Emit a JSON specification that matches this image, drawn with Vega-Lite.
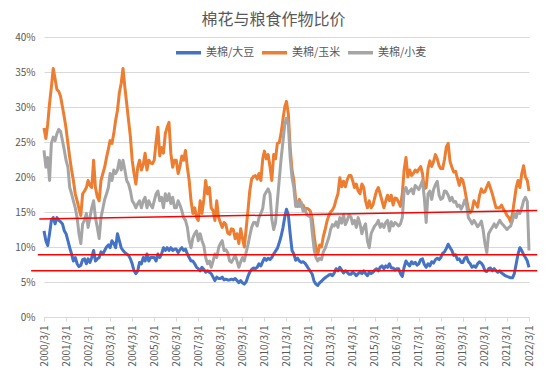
{
"$schema":"https://vega.github.io/schema/vega-lite/v6.json",
"width":485,"height":280,
"autosize":{"type":"none"},
"padding":{"left":44,"top":37,"right":25,"bottom":64},
"background":"white",
"title":{"text":"棉花与粮食作物比价","fontSize":16,"fontWeight":"normal","color":"#595959","font":"Noto Sans CJK SC","anchor":"middle","dx":-13,"offset":4},
"config":{"view":{"stroke":null},"font":"Noto Sans CJK SC"},
"resolve":{"axis":{"x":"independent","y":"independent"}},
"layer":[
{
"data":{"format":{"parse":{"d":"date"}},"values":[
{"d":"2000/03/01","s":12.3,"c":27,"w":23.8},
{"d":"2000/04/01","s":10.9,"c":25.5,"w":21.4},
{"d":"2000/05/01","s":10.2,"c":27.5,"w":22.8},
{"d":"2000/06/01","s":11.9,"c":30.5,"w":19.5},
{"d":"2000/07/01","s":13.8,"c":32.8,"w":24.8},
{"d":"2000/08/01","s":14.2,"c":35.5,"w":25.7},
{"d":"2000/09/01","s":13.3,"c":34,"w":25.2},
{"d":"2000/10/01","s":14.2,"c":32.5,"w":26.2},
{"d":"2000/11/01","s":13.8,"c":32.2,"w":26.8},
{"d":"2000/12/01","s":13.6,"c":31.5,"w":26.5},
{"d":"2001/01/01","s":13.3,"c":30,"w":25.2},
{"d":"2001/02/01","s":12.3,"c":28.5,"w":23.8},
{"d":"2001/03/01","s":11.9,"c":27,"w":22.4},
{"d":"2001/04/01","s":10.9,"c":24.8,"w":21.4},
{"d":"2001/05/01","s":9.9,"c":22.8,"w":18.5},
{"d":"2001/06/01","s":9,"c":21,"w":17.6},
{"d":"2001/07/01","s":8,"c":19.5,"w":16.6},
{"d":"2001/08/01","s":8.5,"c":17.6,"w":15.6},
{"d":"2001/09/01","s":7.6,"c":16.6,"w":14.2},
{"d":"2001/10/01","s":7.2,"c":15.5,"w":11.9},
{"d":"2001/11/01","s":7.4,"c":14.5,"w":10.5},
{"d":"2001/12/01","s":8.2,"c":17.6,"w":13.3},
{"d":"2002/01/01","s":8.3,"c":18,"w":13.8},
{"d":"2002/02/01","s":7.6,"c":18.5,"w":14.8},
{"d":"2002/03/01","s":8.3,"c":19.5,"w":12.8},
{"d":"2002/04/01","s":7.8,"c":18.8,"w":14.2},
{"d":"2002/05/01","s":8.5,"c":18.5,"w":15.6},
{"d":"2002/06/01","s":9.5,"c":22.4,"w":16.6},
{"d":"2002/07/01","s":8,"c":18.5,"w":14.2},
{"d":"2002/08/01","s":8.3,"c":17.2,"w":12.8},
{"d":"2002/09/01","s":8.5,"c":16.6,"w":11.2},
{"d":"2002/10/01","s":9.3,"c":19.5,"w":14.2},
{"d":"2002/11/01","s":9,"c":20.5,"w":15.5},
{"d":"2002/12/01","s":9.5,"c":21.4,"w":16.8},
{"d":"2003/01/01","s":10,"c":22.8,"w":17.6},
{"d":"2003/02/01","s":10.3,"c":24,"w":18.5},
{"d":"2003/03/01","s":9.9,"c":25.2,"w":20.5},
{"d":"2003/04/01","s":10.9,"c":24.8,"w":19.5},
{"d":"2003/05/01","s":10.5,"c":26.2,"w":21},
{"d":"2003/06/01","s":9.9,"c":28.1,"w":20.5},
{"d":"2003/07/01","s":11.9,"c":29.5,"w":21},
{"d":"2003/08/01","s":10.9,"c":32,"w":22.4},
{"d":"2003/09/01","s":9.9,"c":33.4,"w":21},
{"d":"2003/10/01","s":9.5,"c":35.5,"w":22.4},
{"d":"2003/11/01","s":9.2,"c":32.8,"w":21},
{"d":"2003/12/01","s":9,"c":30.5,"w":19.5},
{"d":"2004/01/01","s":8.8,"c":28.1,"w":19},
{"d":"2004/02/01","s":8.3,"c":25.7,"w":18},
{"d":"2004/03/01","s":7.6,"c":22.4,"w":16.6},
{"d":"2004/04/01","s":6.6,"c":20.5,"w":16.2},
{"d":"2004/05/01","s":6.2,"c":19,"w":15.6},
{"d":"2004/06/01","s":6.6,"c":21.4,"w":16.2},
{"d":"2004/07/01","s":7.8,"c":22.4,"w":16.6},
{"d":"2004/08/01","s":7.6,"c":21,"w":15.6},
{"d":"2004/09/01","s":8.5,"c":21.8,"w":16.6},
{"d":"2004/10/01","s":8,"c":23.4,"w":17.1},
{"d":"2004/11/01","s":9,"c":21,"w":15.6},
{"d":"2004/12/01","s":8,"c":22.4,"w":16.6},
{"d":"2005/01/01","s":8.5,"c":22,"w":16},
{"d":"2005/02/01","s":8.5,"c":21.9,"w":15.6},
{"d":"2005/03/01","s":8.5,"c":22.4,"w":16.6},
{"d":"2005/04/01","s":8,"c":25,"w":17.6},
{"d":"2005/05/01","s":9,"c":27.1,"w":18},
{"d":"2005/06/01","s":8.5,"c":23,"w":16.6},
{"d":"2005/07/01","s":9,"c":24.2,"w":17.1},
{"d":"2005/08/01","s":9.9,"c":23.4,"w":15.6},
{"d":"2005/09/01","s":9.5,"c":26.2,"w":17.6},
{"d":"2005/10/01","s":9.9,"c":27.1,"w":16.6},
{"d":"2005/11/01","s":9.5,"c":27.8,"w":17.6},
{"d":"2005/12/01","s":9.9,"c":23.4,"w":16.2},
{"d":"2006/01/01","s":9.5,"c":21.4,"w":17.1},
{"d":"2006/02/01","s":9.7,"c":22.4,"w":15.6},
{"d":"2006/03/01","s":9.7,"c":22.4,"w":15.6},
{"d":"2006/04/01","s":9.2,"c":20.5,"w":16.6},
{"d":"2006/05/01","s":9.6,"c":21.5,"w":16},
{"d":"2006/06/01","s":9.9,"c":23,"w":15.2},
{"d":"2006/07/01","s":9.5,"c":22.4,"w":14.2},
{"d":"2006/08/01","s":9.7,"c":23.8,"w":13.8},
{"d":"2006/09/01","s":9,"c":21.4,"w":12.8},
{"d":"2006/10/01","s":8.5,"c":19.5,"w":10.9},
{"d":"2006/11/01","s":8,"c":16.6,"w":9.9},
{"d":"2006/12/01","s":8,"c":14.8,"w":11.3},
{"d":"2007/01/01","s":7.6,"c":15.6,"w":11.9},
{"d":"2007/02/01","s":7.1,"c":14.2,"w":12.3},
{"d":"2007/03/01","s":6.9,"c":13.8,"w":10.9},
{"d":"2007/04/01","s":6.6,"c":16.6,"w":11.9},
{"d":"2007/05/01","s":7.1,"c":14.8,"w":10.9},
{"d":"2007/06/01","s":6.8,"c":16.8,"w":10.2},
{"d":"2007/07/01","s":6.4,"c":19.5,"w":8.5},
{"d":"2007/08/01","s":6.6,"c":17.6,"w":7.6},
{"d":"2007/09/01","s":6.4,"c":18.5,"w":8},
{"d":"2007/10/01","s":6.2,"c":15.6,"w":7.1},
{"d":"2007/11/01","s":5.7,"c":15.2,"w":8},
{"d":"2007/12/01","s":5.2,"c":13.8,"w":9},
{"d":"2008/01/01","s":5.7,"c":16.6,"w":8.5},
{"d":"2008/02/01","s":5.5,"c":14.2,"w":9.9},
{"d":"2008/03/01","s":5.5,"c":13.5,"w":10.5},
{"d":"2008/04/01","s":5.7,"c":12.8,"w":10.9},
{"d":"2008/05/01","s":5.3,"c":13.5,"w":9.5},
{"d":"2008/06/01","s":5.4,"c":13.2,"w":9.6},
{"d":"2008/07/01","s":5.3,"c":12,"w":9.2},
{"d":"2008/08/01","s":5.3,"c":11.8,"w":8},
{"d":"2008/09/01","s":5.4,"c":12.6,"w":7.8},
{"d":"2008/10/01","s":5.3,"c":12.5,"w":8.3},
{"d":"2008/11/01","s":5.5,"c":11.2,"w":8.8},
{"d":"2008/12/01","s":5.2,"c":11.9,"w":8},
{"d":"2009/01/01","s":4.9,"c":10.5,"w":7.1},
{"d":"2009/02/01","s":5.2,"c":12.6,"w":7.9},
{"d":"2009/03/01","s":4.9,"c":11.3,"w":8.5},
{"d":"2009/04/01","s":4.7,"c":10,"w":8},
{"d":"2009/05/01","s":5,"c":12.5,"w":9.2},
{"d":"2009/06/01","s":5.8,"c":15.2,"w":10.3},
{"d":"2009/07/01","s":6.4,"c":18,"w":11.6},
{"d":"2009/08/01","s":6.8,"c":19.7,"w":12.8},
{"d":"2009/09/01","s":7,"c":20.1,"w":13.5},
{"d":"2009/10/01","s":6.9,"c":20.2,"w":13.5},
{"d":"2009/11/01","s":7.1,"c":19.7,"w":13},
{"d":"2009/12/01","s":7.6,"c":20.5,"w":14.2},
{"d":"2010/01/01","s":7.3,"c":19.5,"w":14.8},
{"d":"2010/02/01","s":7.9,"c":22.6,"w":15.5},
{"d":"2010/03/01","s":8.4,"c":23.7,"w":17.4},
{"d":"2010/04/01","s":8.1,"c":22.6,"w":17.9},
{"d":"2010/05/01","s":8.4,"c":23.2,"w":18.3},
{"d":"2010/06/01","s":8.2,"c":21.5,"w":17.6},
{"d":"2010/07/01","s":8.5,"c":19.5,"w":14},
{"d":"2010/08/01","s":9,"c":23.2,"w":12.5},
{"d":"2010/09/01","s":9.4,"c":22.6,"w":13.5},
{"d":"2010/10/01","s":9.8,"c":24.8,"w":16.5},
{"d":"2010/11/01","s":10.6,"c":24.9,"w":19.6},
{"d":"2010/12/01","s":11.5,"c":26.2,"w":22.5},
{"d":"2011/01/01","s":12.7,"c":28.2,"w":25},
{"d":"2011/02/01","s":14.3,"c":30,"w":27.5},
{"d":"2011/03/01","s":15.4,"c":30.8,"w":28.4},
{"d":"2011/04/01","s":14.6,"c":29,"w":27.5},
{"d":"2011/05/01","s":11.9,"c":24.2,"w":22.8},
{"d":"2011/06/01","s":9.5,"c":21,"w":19.9},
{"d":"2011/07/01","s":9,"c":19.5,"w":18.5},
{"d":"2011/08/01","s":8.1,"c":16.8,"w":15.8},
{"d":"2011/09/01","s":8.4,"c":15.8,"w":16.5},
{"d":"2011/10/01","s":8,"c":16.8,"w":15.8},
{"d":"2011/11/01","s":7.8,"c":15.8,"w":16.4},
{"d":"2011/12/01","s":7.9,"c":16,"w":15.1},
{"d":"2012/01/01","s":7.7,"c":15.4,"w":15.4},
{"d":"2012/02/01","s":7.3,"c":15.5,"w":14.6},
{"d":"2012/03/01","s":6.9,"c":15.4,"w":14.4},
{"d":"2012/04/01","s":6.5,"c":15.1,"w":14.7},
{"d":"2012/05/01","s":6.1,"c":14,"w":12.1},
{"d":"2012/06/01","s":5.1,"c":11.6,"w":9.7},
{"d":"2012/07/01","s":4.7,"c":9.8,"w":8.5},
{"d":"2012/08/01","s":4.5,"c":9,"w":8},
{"d":"2012/09/01","s":4.9,"c":10.3,"w":8.4},
{"d":"2012/10/01","s":5.1,"c":10,"w":8.2},
{"d":"2012/11/01","s":5.4,"c":11.5,"w":9.3},
{"d":"2012/12/01","s":5.6,"c":12.5,"w":9.8},
{"d":"2013/01/01","s":5.8,"c":13.7,"w":10.6},
{"d":"2013/02/01","s":6,"c":14.5,"w":11.4},
{"d":"2013/03/01","s":6.1,"c":15,"w":12.5},
{"d":"2013/04/01","s":5.9,"c":15.3,"w":13.2},
{"d":"2013/05/01","s":6.3,"c":15.8,"w":13},
{"d":"2013/06/01","s":6.9,"c":16.8,"w":13.6},
{"d":"2013/07/01","s":6.6,"c":17.6,"w":12.8},
{"d":"2013/08/01","s":7.1,"c":19.9,"w":14.2},
{"d":"2013/09/01","s":6.7,"c":18.6,"w":13.4},
{"d":"2013/10/01","s":6.3,"c":19.4,"w":14.6},
{"d":"2013/11/01","s":6.6,"c":18.6,"w":13.2},
{"d":"2013/12/01","s":6.4,"c":19.6,"w":13.8},
{"d":"2014/01/01","s":6.1,"c":20.2,"w":14.6},
{"d":"2014/02/01","s":6.1,"c":20.2,"w":14.3},
{"d":"2014/03/01","s":6.4,"c":19.5,"w":13.3},
{"d":"2014/04/01","s":6.2,"c":18.5,"w":13.8},
{"d":"2014/05/01","s":5.9,"c":19,"w":12.8},
{"d":"2014/06/01","s":6.2,"c":18,"w":14.2},
{"d":"2014/07/01","s":6.4,"c":17.6,"w":13.3},
{"d":"2014/08/01","s":6.2,"c":19,"w":11.9},
{"d":"2014/09/01","s":6.6,"c":18.5,"w":12.8},
{"d":"2014/10/01","s":6.2,"c":16.6,"w":13.3},
{"d":"2014/11/01","s":5.9,"c":15.6,"w":10.9},
{"d":"2014/12/01","s":6.4,"c":16.6,"w":9.9},
{"d":"2015/01/01","s":6.2,"c":15.6,"w":11.9},
{"d":"2015/02/01","s":6.4,"c":16,"w":12.5},
{"d":"2015/03/01","s":6.7,"c":17,"w":13},
{"d":"2015/04/01","s":6.9,"c":18,"w":13.3},
{"d":"2015/05/01","s":6.6,"c":18.5,"w":13.8},
{"d":"2015/06/01","s":7.1,"c":17.6,"w":12.8},
{"d":"2015/07/01","s":7.3,"c":16.6,"w":13.3},
{"d":"2015/08/01","s":6.9,"c":15.6,"w":12.8},
{"d":"2015/09/01","s":7.3,"c":16.6,"w":13.5},
{"d":"2015/10/01","s":7.1,"c":17.4,"w":13.8},
{"d":"2015/11/01","s":7.6,"c":16.6,"w":12.3},
{"d":"2015/12/01","s":7,"c":17.4,"w":13.6},
{"d":"2016/01/01","s":7,"c":16,"w":13},
{"d":"2016/02/01","s":6.7,"c":17,"w":13.5},
{"d":"2016/03/01","s":6.9,"c":16.9,"w":13.3},
{"d":"2016/04/01","s":6.9,"c":16.4,"w":13},
{"d":"2016/05/01","s":6.2,"c":15.8,"w":13.3},
{"d":"2016/06/01","s":5.8,"c":17.6,"w":14.2},
{"d":"2016/07/01","s":7.1,"c":21,"w":18},
{"d":"2016/08/01","s":8,"c":22.8,"w":18.5},
{"d":"2016/09/01","s":7.6,"c":20,"w":17.6},
{"d":"2016/10/01","s":7.3,"c":21,"w":18},
{"d":"2016/11/01","s":7.9,"c":20.2,"w":18.3},
{"d":"2016/12/01","s":7.6,"c":20.5,"w":17.6},
{"d":"2017/01/01","s":7.8,"c":21,"w":18.8},
{"d":"2017/02/01","s":7.4,"c":20.7,"w":18.5},
{"d":"2017/03/01","s":7.6,"c":21.1,"w":18.2},
{"d":"2017/04/01","s":8.2,"c":21.5,"w":18.8},
{"d":"2017/05/01","s":8.3,"c":20.5,"w":19.5},
{"d":"2017/06/01","s":7.5,"c":18.3,"w":17},
{"d":"2017/07/01","s":7.1,"c":18.5,"w":13.5},
{"d":"2017/08/01","s":7.6,"c":21.2,"w":17.6},
{"d":"2017/09/01","s":7.3,"c":22.3,"w":18},
{"d":"2017/10/01","s":7.9,"c":21.5,"w":16.8},
{"d":"2017/11/01","s":7.7,"c":22.2,"w":18.2},
{"d":"2017/12/01","s":8.2,"c":23.2,"w":18.9},
{"d":"2018/01/01","s":8.4,"c":22.6,"w":19.4},
{"d":"2018/02/01","s":8.2,"c":21.6,"w":17.4},
{"d":"2018/03/01","s":8.5,"c":21.2,"w":16.8},
{"d":"2018/04/01","s":9.1,"c":21.2,"w":17},
{"d":"2018/05/01","s":9.3,"c":22.5,"w":18},
{"d":"2018/06/01","s":9.8,"c":24.3,"w":17.9},
{"d":"2018/07/01","s":10.4,"c":24.8,"w":17.4},
{"d":"2018/08/01","s":9.9,"c":22.2,"w":16.6},
{"d":"2018/09/01","s":9.5,"c":21.4,"w":17.1},
{"d":"2018/10/01","s":8.8,"c":20.7,"w":16.4},
{"d":"2018/11/01","s":8.9,"c":20.8,"w":16.5},
{"d":"2018/12/01","s":8.2,"c":19.8,"w":15.8},
{"d":"2019/01/01","s":8.3,"c":18.8,"w":16},
{"d":"2019/02/01","s":7.8,"c":19.8,"w":15.4},
{"d":"2019/03/01","s":7.8,"c":19.5,"w":15.9},
{"d":"2019/04/01","s":8.4,"c":18.3,"w":16.7},
{"d":"2019/05/01","s":8.6,"c":16.8,"w":16},
{"d":"2019/06/01","s":7.9,"c":15.4,"w":14.2},
{"d":"2019/07/01","s":7.6,"c":14.9,"w":13.8},
{"d":"2019/08/01","s":7.1,"c":15.3,"w":13.3},
{"d":"2019/09/01","s":7.3,"c":16.6,"w":13.8},
{"d":"2019/10/01","s":7.1,"c":16.2,"w":13.4},
{"d":"2019/11/01","s":7.6,"c":15.7,"w":12.9},
{"d":"2019/12/01","s":7.9,"c":17.3,"w":13.2},
{"d":"2020/01/01","s":7.7,"c":18.3,"w":13.7},
{"d":"2020/02/01","s":7.3,"c":17.8,"w":12.4},
{"d":"2020/03/01","s":6.6,"c":17.9,"w":10.5},
{"d":"2020/04/01","s":6.5,"c":18.6,"w":9.2},
{"d":"2020/05/01","s":6.9,"c":19.2,"w":11.9},
{"d":"2020/06/01","s":7,"c":18.4,"w":12.4},
{"d":"2020/07/01","s":6.6,"c":17.6,"w":12.8},
{"d":"2020/08/01","s":6.9,"c":16.6,"w":13.3},
{"d":"2020/09/01","s":6.6,"c":15.6,"w":12.8},
{"d":"2020/10/01","s":6.4,"c":15.6,"w":13.3},
{"d":"2020/11/01","s":6.6,"c":15.6,"w":13.8},
{"d":"2020/12/01","s":6.3,"c":16,"w":13.4},
{"d":"2021/01/01","s":6.1,"c":15.4,"w":13.1},
{"d":"2021/02/01","s":5.9,"c":15,"w":12.8},
{"d":"2021/03/01","s":5.8,"c":14.5,"w":12.5},
{"d":"2021/04/01","s":5.7,"c":14.2,"w":12.8},
{"d":"2021/05/01","s":5.6,"c":13.6,"w":13},
{"d":"2021/06/01","s":5.6,"c":14.8,"w":13.8},
{"d":"2021/07/01","s":6.2,"c":16.6,"w":14.8},
{"d":"2021/08/01","s":7.6,"c":18.5,"w":14.2},
{"d":"2021/09/01","s":9,"c":19.5,"w":15.2},
{"d":"2021/10/01","s":9.9,"c":18.5,"w":14.8},
{"d":"2021/11/01","s":9.5,"c":20.5,"w":15.6},
{"d":"2021/12/01","s":8.9,"c":21.6,"w":16.6},
{"d":"2022/01/01","s":8.5,"c":20,"w":17.1},
{"d":"2022/02/01","s":8,"c":19.5,"w":16.5},
{"d":"2022/03/01","s":7.1,"c":18,"w":9.5}
]},
"transform":[{"fold":["s","c","w"],"as":["k","v"]}],
"mark":{"type":"line","strokeWidth":3,"strokeJoin":"round"},
"encoding":{
"x":{"field":"d","type":"temporal","title":null,
"scale":{"domain":[{"year":2000,"month":3,"date":1},{"year":2022,"month":3,"date":1}]},
"axis":{"values":[{"year":2000,"month":3,"date":1},{"year":2001,"month":3,"date":1},{"year":2002,"month":3,"date":1},{"year":2003,"month":3,"date":1},{"year":2004,"month":3,"date":1},{"year":2005,"month":3,"date":1},{"year":2006,"month":3,"date":1},{"year":2007,"month":3,"date":1},{"year":2008,"month":3,"date":1},{"year":2009,"month":3,"date":1},{"year":2010,"month":3,"date":1},{"year":2011,"month":3,"date":1},{"year":2012,"month":3,"date":1},{"year":2013,"month":3,"date":1},{"year":2014,"month":3,"date":1},{"year":2015,"month":3,"date":1},{"year":2016,"month":3,"date":1},{"year":2017,"month":3,"date":1},{"year":2018,"month":3,"date":1},{"year":2019,"month":3,"date":1},{"year":2020,"month":3,"date":1},{"year":2021,"month":3,"date":1},{"year":2022,"month":3,"date":1}],
"format":"%Y/%-m/%-d","labelAngle":-90,"grid":false,"domainColor":"#D9D9D9","tickColor":"#D9D9D9","tickSize":4,"labelColor":"#595959","labelFontSize":10,"labelPadding":4,"labelOverlap":false,"labelFlush":false,"labelBound":false}},
"y":{"field":"v","type":"quantitative","title":null,"scale":{"domain":[0,40]},
"axis":{"values":[0,5,10,15,20,25,30,35,40],"labelExpr":"datum.value + '%'","domain":false,"ticks":false,"grid":true,"gridColor":"#D9D9D9","labelColor":"#595959","labelFontSize":10,"labelPadding":9}},
"color":{"field":"k","type":"nominal","scale":{"domain":["s","c","w"],"range":["#4472C4","#ED7D31","#A5A5A5"]},
"legend":{"orient":"none","legendX":130,"legendY":1,"direction":"horizontal","title":null,"symbolType":"stroke","symbolSize":625,"symbolStrokeWidth":3.5,"labelFontSize":11,"labelColor":"#595959","labelOffset":3,"columnPadding":0,"padding":0,
"labelExpr":"datum.label == 's' ? '美棉/大豆' : (datum.label == 'c' ? '美棉/玉米' : '美棉/小麦')"}}
}
},
{
"data":{"format":{"parse":{"a":"date","b":"date"}},"values":[
{"a":"1999/12/15","b":"2022/07/15","y1":14.0,"y2":15.2},
{"a":"1999/11/20","b":"2022/07/15","y1":8.9,"y2":8.9},
{"a":"1999/08/01","b":"2022/07/15","y1":6.6,"y2":6.6}
]},
"mark":{"type":"rule","color":"#FF0000","strokeWidth":1.5,"clip":false},
"encoding":{
"x":{"field":"a","type":"temporal","title":null,"axis":null},
"x2":{"field":"b"},
"y":{"field":"y1","type":"quantitative","title":null,"axis":null},
"y2":{"field":"y2"}
}
}
]
}
